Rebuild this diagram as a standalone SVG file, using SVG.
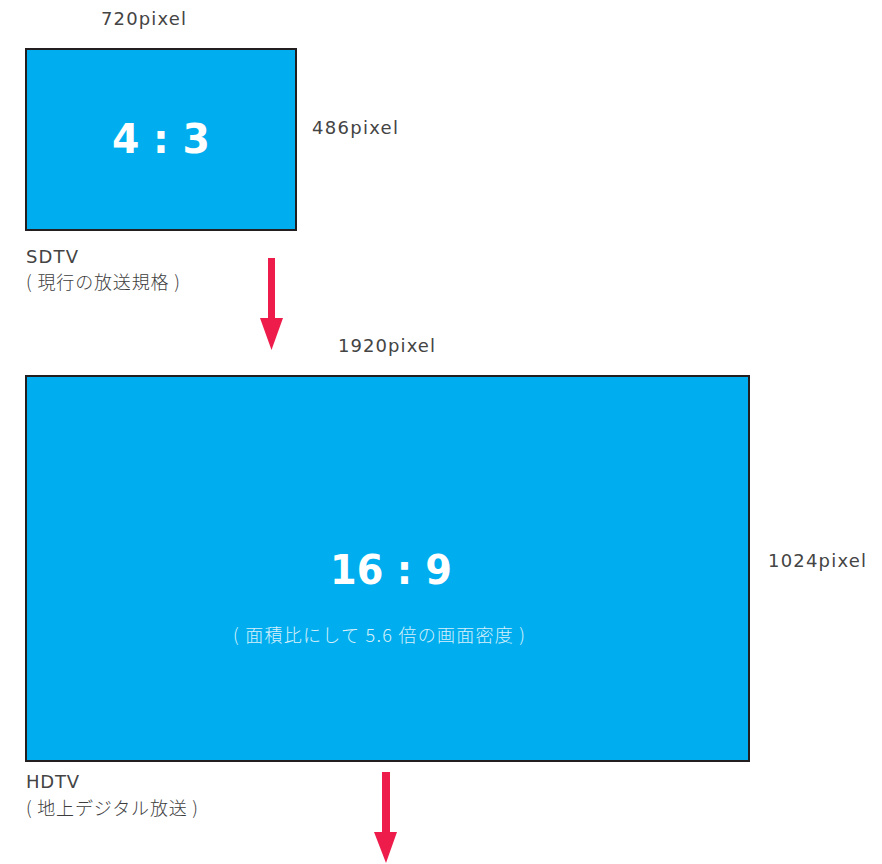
<svg xmlns="http://www.w3.org/2000/svg" width="882" height="864" viewBox="0 0 882 864">
<style>
.lbl{font-family:"DejaVu Sans","Noto Sans CJK JP",sans-serif;font-size:18px;fill:#444444}
.cjk{font-family:"Noto Sans CJK JP","DejaVu Sans",sans-serif;font-size:18px;fill:#3d3d3d;font-weight:300}
.screen{fill:#00aeef;stroke:#231f20;stroke-width:2}
.ratio{font-family:"DejaVu Sans","Liberation Sans",sans-serif;font-weight:bold;font-size:41px;fill:#ffffff}
.sub{font-family:"Noto Sans CJK JP","DejaVu Sans",sans-serif;font-size:18px;fill:#d6f0fb;font-weight:300}
.arrow{fill:#ee1c4b}
</style>
<g id="sdtv">
<rect class="screen" x="26" y="49" width="270" height="181"/>
<text class="ratio" x="112" y="153" textLength="98" lengthAdjust="spacingAndGlyphs">4 : 3</text>
<text class="lbl" x="101" y="25" textLength="85">720pixel</text>
<text class="lbl" x="312" y="134" textLength="86">486pixel</text>
<text class="lbl" x="26" y="263" textLength="52">SDTV</text>
<text class="cjk" x="26" y="289" textLength="154">( 現行の放送規格 )</text>
</g>
<g id="hdtv">
<rect class="screen" x="26" y="376" width="723" height="385"/>
<text class="ratio" x="330" y="584" textLength="122" lengthAdjust="spacingAndGlyphs">16 : 9</text>
<text class="sub" x="233" y="642" textLength="292">( 面積比にして 5.6 倍の画面密度 )</text>
<text class="lbl" x="338" y="352" textLength="97">1920pixel</text>
<text class="lbl" x="768" y="567" textLength="98">1024pixel</text>
<text class="lbl" x="26" y="788" textLength="53">HDTV</text>
<text class="cjk" x="26" y="815" textLength="172">( 地上デジタル放送 )</text>
</g>
<g id="connectors">
<polygon class="arrow" points="268,258 275,258 275,318 283,318 271.5,350 260,318 268,318"/>
<polygon class="arrow" points="382,772 390,772 390,832 397,832 386,863 374,832 382,832"/>
</g>
</svg>
